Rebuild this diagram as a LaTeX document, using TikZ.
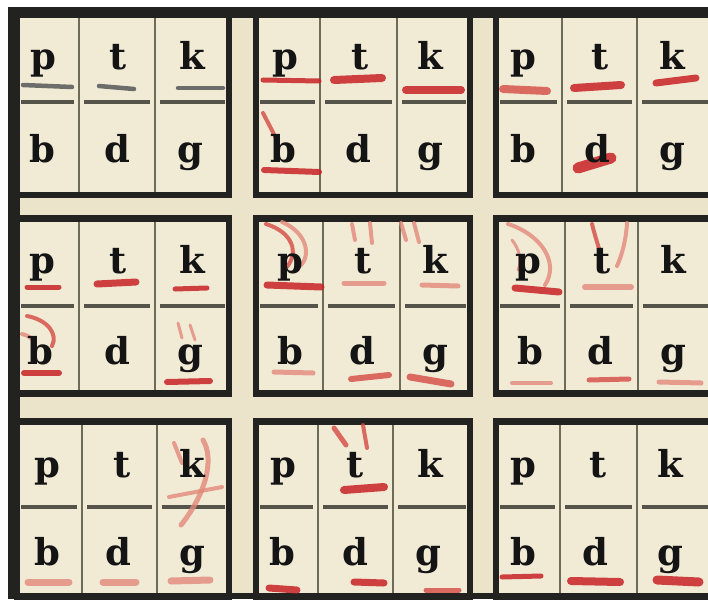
\documentclass[tikz,border=0pt]{standalone}
\usepackage{fontspec}
\newfontfamily\lettfont{DejaVu Serif}
\definecolor{bg}{HTML}{ECE4CA}
\definecolor{cell}{HTML}{F1EBD6}
\definecolor{framec}{HTML}{222220}
\definecolor{divc}{HTML}{6E6B58}
\definecolor{hdivc}{HTML}{55544A}
\definecolor{redA}{HTML}{C92226}
\definecolor{redB}{HTML}{D54A42}
\definecolor{redC}{HTML}{E2897A}
\definecolor{grayu}{HTML}{6C6C6A}
\tikzset{
  lett/.style={anchor=base,inner sep=0pt,font=\lettfont\bfseries\fontsize{37}{37}\selectfont,text=black!92},
  framebox/.style={draw=framec,line width=6.5pt},
  vdiv/.style={draw=divc,line width=2.8pt},
  hdiv/.style={draw=hdivc,line width=3.2pt},
  rs/.style={line cap=round,line width=6pt,draw=redA,opacity=0.85},
  rm/.style={line cap=round,line width=6pt,draw=redB,opacity=0.8},
  rf/.style={line cap=round,line width=5pt,draw=redC,opacity=0.8},
  gs/.style={line cap=round,line width=4.5pt,draw=grayu}
}
\newcommand\drawpanel[7]{%
  \fill[cell] (#1,#2) rectangle (#3,#4);
  \draw[hdiv] ({#1+4},#7) -- ({#5-5},#7) ({#5+5},#7) -- ({#6-5},#7) ({#6+5},#7) -- ({#3-4},#7);
  \draw[vdiv] (#5,#2) -- (#5,#4) (#6,#2) -- (#6,#4);
  \draw[framebox] (#1,#2) rectangle (#3,#4);
}
\newcommand\lets[9]{%
  \node[lett] (#1p) at (#2,#5) {p};
  \node[lett] (#1t) at (#3,#5) {t};
  \node[lett] (#1k) at (#4,#5) {k};
  \node[lett] (#1b) at (#6,#9) {b};
  \node[lett] (#1d) at (#7,#9) {d};
  \node[lett] (#1g) at (#8,#9) {g};
}
\begin{document}
\begin{tikzpicture}[x=1pt,y=-1pt]
\useasboundingbox (0,0) rectangle (708,599);
\fill[white] (0,0) rectangle (708,599);
\fill[bg] (8,7) rectangle (708,599);
\begin{scope}
\clip (0,0) rectangle (708,599);
% panels: x1 y1 x2 y2 xa xb yh
\drawpanel{17}{13}{229}{195}{79}{155}{102}
\drawpanel{256}{13}{470}{195}{320}{397}{102}
\drawpanel{496}{13}{714}{195}{562}{637}{102}
\drawpanel{17}{218.5}{229}{393.5}{79}{155}{306}
\drawpanel{256}{218.5}{470}{393.5}{323}{400}{306}
\drawpanel{496}{218.5}{714}{393.5}{565}{638}{306}
\drawpanel{17}{421.5}{229}{597}{82}{157}{507}
\drawpanel{256}{421.5}{470}{597}{318}{393}{507}
\drawpanel{496}{421.5}{714}{597}{560}{637}{507}
% outer strips
\fill[framec] (8,7) rectangle (708,18);
\fill[framec] (8,7) rectangle (20,599);
\fill[framec] (8,593) rectangle (708,599);
% panel 1,1 (gray)
\draw[gs] (23,85) -- (72,87);
\draw[gs] (99,86) -- (134,89);
\draw[gs] (178,88) -- (223,88);
% panel 1,2
\draw[rs,line width=5pt] (263,80) -- (319,81);
\draw[rs,line width=8pt] (334,80) -- (382,78);
\draw[rs,line width=8pt] (406,90) -- (461,90);
\draw[rm,line width=4pt] (263,113) -- (278,142);
\draw[rs,line width=6pt] (264,170) -- (319,172);
% panel 1,3
\draw[rm,line width=8pt] (503,89) -- (547,91);
\draw[rs,line width=8pt] (574,88) -- (621,85);
\draw[rs,line width=7pt] (656,83) -- (696,78);
\draw[rs,line width=11pt] (578,168) -- (611,158);
% panel 2,1
\draw[rs,line width=5pt] (27,287) -- (59,287);
\draw[rs,line width=7pt] (97,284) -- (136,282);
\draw[rs,line width=5pt] (175,289) -- (207,288);
\draw[rm,line width=4pt] (27,316) .. controls (48,320) and (58,334) .. (52,346);
\draw[rf,line width=4pt] (22,334) .. controls (32,336) and (38,344) .. (34,352);
\draw[rs,line width=6pt] (24,373) -- (59,373);
\draw[rf,line width=3pt] (178,323) -- (182,338);
\draw[rf,line width=3pt] (190,325) -- (195,340);
\draw[rs,line width=6pt] (167,382) -- (210,381);
% panel 2,2
\draw[rm,line width=4pt] (266,224) .. controls (292,232) and (300,252) .. (286,268);
\draw[rf,line width=4pt] (282,222) .. controls (306,232) and (312,255) .. (300,266);
\draw[rs,line width=7pt] (267,285) -- (321,287);
\draw[rf,line width=4pt] (352,224) -- (355,240);
\draw[rf,line width=4pt] (370,223) -- (372,243);
\draw[rf,line width=5pt] (344,283) -- (384,283);
\draw[rf,line width=4pt] (401,223) -- (406,240);
\draw[rf,line width=4pt] (414,223) -- (419,242);
\draw[rf,line width=5pt] (422,285) -- (458,286);
\draw[rf,line width=5pt] (274,372) -- (313,373);
\draw[rm,line width=6pt] (351,379) -- (389,375);
\draw[rm,line width=7pt] (410,377) -- (451,384);
% panel 2,3
\draw[rf,line width=4pt] (508,224) .. controls (540,234) and (560,262) .. (545,285);
\draw[rf,line width=3pt] (512,240) .. controls (520,250) and (522,262) .. (518,270);
\draw[rs,line width=7pt] (515,288) -- (559,292);
\draw[rm,line width=4pt] (592,224) .. controls (595,236) and (598,245) .. (600,252);
\draw[rf,line width=4pt] (627,223) .. controls (626,240) and (622,255) .. (617,266);
\draw[rf,line width=6pt] (585,287) -- (631,287);
\draw[rf,line width=4pt] (512,383) -- (551,383);
\draw[rm,line width=5pt] (589,380) -- (629,379);
\draw[rf,line width=5pt] (659,382) -- (701,383);
% panel 3,1
\draw[rf,line width=4pt] (174,443) -- (182,463);
\draw[rf,line width=5pt] (203,440) .. controls (215,460) and (205,495) .. (181,525);
\draw[rf,line width=4pt] (169,497) -- (222,487);
\draw[rf,line width=7pt] (28,582) -- (69,582);
\draw[rf,line width=7pt] (103,582) -- (136,582);
\draw[rf,line width=7pt] (171,581) -- (210,580);
% panel 3,2
\draw[rm,line width=5pt] (334,428) -- (346,445);
\draw[rm,line width=4pt] (363,425) -- (367,448);
\draw[rs,line width=8pt] (344,490) -- (384,487);
\draw[rs,line width=7pt] (269,588) -- (297,590);
\draw[rs,line width=7pt] (354,582) -- (384,583);
\draw[rm,line width=5pt] (426,590) -- (459,590);
% panel 3,3
\draw[rs,line width=5pt] (502,577) -- (541,576);
\draw[rs,line width=8pt] (571,581) -- (620,582);
\draw[rs,line width=9pt] (657,580) -- (699,582);
% letters
\lets{a}{43}{118}{192}{70}{42}{117}{190}{162}
\lets{b}{285}{360}{430}{70}{283}{358}{430}{162}
\lets{c}{523}{600}{672}{70}{523}{597}{672}{162}
\lets{d}{42}{118}{192}{273}{40}{117}{190}{364}
\lets{e}{290}{363}{435}{273}{290}{362}{435}{364}
\lets{f}{528}{602}{673}{273}{530}{600}{673}{364}
\lets{g}{47}{122}{192}{477}{47}{118}{192}{565}
\lets{h}{283}{355}{430}{477}{282}{355}{428}{565}
\lets{i}{523}{598}{670}{477}{523}{595}{670}{565}
\end{scope}
\end{tikzpicture}
\end{document}
